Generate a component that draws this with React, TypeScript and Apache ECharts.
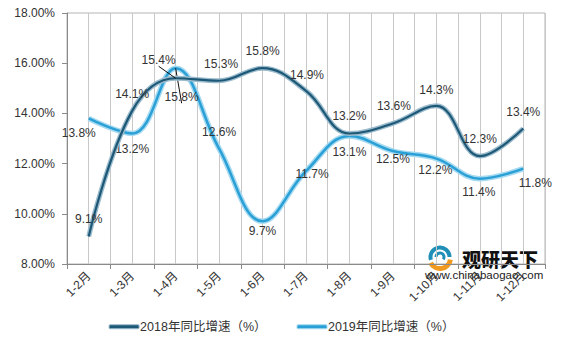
import React, { useEffect, useRef } from "react";
import * as echarts from "echarts";

const categories = ["1-2月", "1-3月", "1-4月", "1-5月", "1-6月", "1-7月", "1-8月", "1-9月", "1-10月", "1-11月", "1-12月"];
const growth2018 = [9.1, 14.1, 15.4, 15.3, 15.8, 14.9, 13.2, 13.6, 14.3, 12.3, 13.4];
const growth2019 = [13.8, 13.2, 15.8, 12.6, 9.7, 11.7, 13.1, 12.5, 12.2, 11.4, 11.8];
const name2018 = "2018年同比增速（%）";
const name2019 = "2019年同比增速（%）";
const yTicks = { min: 8, max: 18, interval: 2 };

// label placement (offset of label centre from data point, px)
const offsets2018: [number, number][] = [[0, -17], [0, -17], [-17, -18], [2, -17], [0, -17], [1, -16], [0, -17], [1, -17], [0, -16], [0, -17], [0, -16]];
const offsets2019: [number, number][] = [[-10, 15], [0, 16], [6, 29], [0, -17], [0, 10], [6, 3], [0, 16], [0, 8], [-1, 11], [-1, 13], [12, 14]];
const leaderIndex = 2;

const FONT = "'Liberation Sans', 'Noto Sans CJK SC', sans-serif";

function buildData(values: number[], offsets: [number, number][]) {
  return values.map((v, i) => ({
    value: v,
    label: { offset: offsets[i] },
    labelLine: i === leaderIndex ? { show: true, length2: 0, lineStyle: { color: "#111", width: 1 } } : undefined,
  }));
}

export default function App() {
  const ref = useRef<HTMLDivElement>(null);
  useEffect(() => {
    if (!ref.current) return;
    const chart = echarts.init(ref.current, undefined, { renderer: "svg" });
    const labelCfg = {
      show: true,
      position: "inside",
      fontSize: 12,
      fontFamily: FONT,
      color: "#333",
      formatter: (p: any) => p.value.toFixed(1) + "%",
    };
    const c18 = "#1d5877";
    const c18o = "#9cbccd";
    const c19 = "#2aa0d6";
    const c19o = "#a6daf1";
    chart.setOption({
      animation: false,
      grid: { left: 67, right: 18, top: 13, bottom: 79, show: true, borderColor: "#b4b4b4", borderWidth: 1 },
      legend: {
        bottom: 5,
        left: "center",
        itemGap: 30,
        itemWidth: 30,
        itemHeight: 4,
        icon: "roundRect",
        textStyle: { fontSize: 12.5, fontFamily: FONT, color: "#333", padding: [0, 0, 0, -4] },
        data: [
          { name: name2018, itemStyle: { color: c18, borderColor: c18o, borderWidth: 1 } },
          { name: name2019, itemStyle: { color: c19, borderColor: c19o, borderWidth: 1 } },
        ],
      },
      xAxis: [
        {
          type: "category",
          data: categories,
          boundaryGap: true,
          axisLine: { lineStyle: { color: "#8a8a8a" } },
          axisTick: { show: true, length: 5, lineStyle: { color: "#8a8a8a" } },
          axisLabel: { rotate: 45, fontSize: 12, fontFamily: FONT, color: "#333", interval: 0, margin: 10 },
          splitLine: { show: false },
        },
        {
          type: "value",
          min: 0,
          max: categories.length * 2,
          interval: 1,
          position: "bottom",
          show: true,
          axisLine: { show: false },
          axisTick: { show: false },
          axisLabel: { show: false },
          splitLine: { show: true, lineStyle: { color: "#c8c8c8", width: 1 } },
        },
      ],
      yAxis: {
        type: "value",
        min: yTicks.min,
        max: yTicks.max,
        interval: yTicks.interval,
        axisLine: { show: true, lineStyle: { color: "#8a8a8a" } },
        axisTick: { show: true, length: 5, lineStyle: { color: "#8a8a8a" } },
        axisLabel: { fontSize: 12, fontFamily: FONT, color: "#333", margin: 12, formatter: (v: number) => v.toFixed(2) + "%" },
        splitLine: { show: false },
      },
      series: [
        {
          name: "2019outline",
          type: "line",
          data: growth2019,
          smooth: 0.4,
          symbol: "none",
          silent: true,
          lineStyle: { color: c19o, width: 5.5 },
          z: 2,
        },
        {
          name: name2019,
          type: "line",
          data: buildData(growth2019, offsets2019),
          smooth: 0.4,
          symbol: "circle",
          symbolSize: 0,
          itemStyle: { color: c19 },
          lineStyle: { color: c19, width: 2.5 },
          label: labelCfg,
          z: 3,
        },
        {
          name: "2018outline",
          type: "line",
          data: growth2018,
          smooth: 0.4,
          symbol: "none",
          silent: true,
          lineStyle: { color: c18o, width: 5 },
          z: 4,
        },
        {
          name: name2018,
          type: "line",
          data: buildData(growth2018, offsets2018),
          smooth: 0.4,
          symbol: "circle",
          symbolSize: 0,
          itemStyle: { color: c18 },
          lineStyle: { color: c18, width: 2.2 },
          label: labelCfg,
          z: 5,
        },
      ],
      graphic: [
        {
          type: "group",
          x: 425,
          y: 246,
          z: 10,
          children: [
            { type: "arc", shape: { cx: 15, cy: 11, r: 9.5, startAngle: Math.PI * 0.9, endAngle: Math.PI * 2.0 }, style: { stroke: "#1f8fb8", lineWidth: 4, fill: "none" } },
            { type: "arc", shape: { cx: 15, cy: 11, r: 4, startAngle: Math.PI * 1.0, endAngle: Math.PI * 2.2 }, style: { stroke: "#1f8fb8", lineWidth: 3, fill: "none" } },
            { type: "arc", shape: { cx: 15, cy: 12, r: 10.5, startAngle: Math.PI * 0.05, endAngle: Math.PI * 0.85 }, style: { stroke: "#f29a1f", lineWidth: 5, fill: "none" } },
            { type: "text", x: 37, y: 12, style: { text: "观研天下", fontSize: 19, fontWeight: 900, fontFamily: "'Noto Sans CJK SC', sans-serif", fill: "#111", verticalAlign: "middle" } },
            { type: "text", x: 0, y: 29, style: { text: "www.chinabaogao.com", fontSize: 11.5, fontFamily: FONT, fill: "#222", verticalAlign: "middle" } },
          ],
        },
      ],
    });
    return () => chart.dispose();
  }, []);
  return <div ref={ref} style={{ position: "fixed", left: 0, top: 0, width: 563, height: 343, background: "#fff" }} />;
}
